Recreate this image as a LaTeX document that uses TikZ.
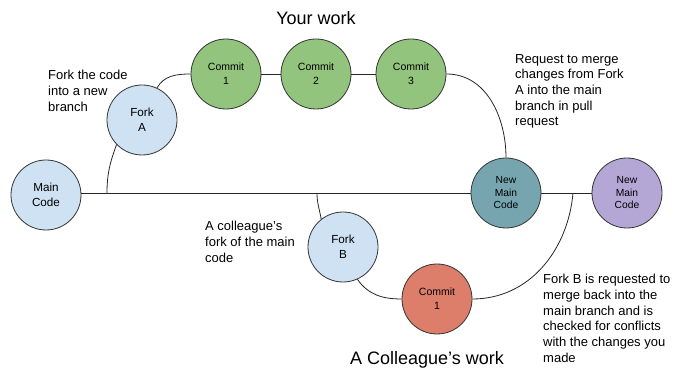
\documentclass[tikz,border=0pt]{standalone}
\usepackage{fontspec}
\setmainfont{Liberation Sans}
\definecolor{forkblue}{HTML}{CFE2F3}
\definecolor{commitgreen}{HTML}{93C47D}
\definecolor{mergeteal}{HTML}{76A5AF}
\definecolor{commitred}{HTML}{DD7E6B}
\definecolor{newpurple}{HTML}{B4A7D6}
\tikzset{
  codenode/.style={circle,draw=black!80,line width=0.8pt,minimum size=70pt,inner sep=0pt,align=center,font=\fontsize{10.5}{14}\selectfont},
  forknode/.style={codenode,fill=forkblue,font=\fontsize{11.7}{15}\selectfont},
  newnode/.style={codenode,font=\fontsize{10.3}{12.5}\selectfont},
  note/.style={anchor=north west,align=left,inner sep=0pt,font=\fontsize{13}{15.7}\selectfont},
  worktitle/.style={anchor=base,inner sep=0pt,font=\fontsize{18}{20}\selectfont},
  branch/.style={line width=0.8pt,black!85}
}
\begin{document}
\begin{tikzpicture}[x=1pt,y=1pt]
\useasboundingbox (0,0) rectangle (675,369);
\node[forknode] (maincode) at (46,174) {Main\\Code};
\node[forknode] (forka) at (142,249) {Fork\\A};
\node[codenode,fill=commitgreen] (commita1) at (226,295) {Commit\\1};
\node[codenode,fill=commitgreen] (commita2) at (316,295) {Commit\\2};
\node[codenode,fill=commitgreen] (commita3) at (411,295) {Commit\\3};
\node[newnode,fill=mergeteal] (newmain) at (506,176) {New\\Main\\Code};
\node[newnode,fill=newpurple] (newmainb) at (627,176) {New\\Main\\Code};
\node[forknode] (forkb) at (343,122) {Fork\\B};
\node[codenode,fill=commitred] (commitb1) at (437,70) {Commit\\1};
\coordinate (forkaroot) at (107,176);
\coordinate (forkbroot) at (317,176);
\coordinate (mergeb) at (573,176);
\draw[branch] (maincode.east |- newmain.west) -- (newmain) -- (newmainb);
\draw[branch] (forkaroot) to[out=90,in=250] (forka.224);
\draw[branch] (forka.65) to[out=60,in=180] (commita1.west);
\draw[branch] (commita1) -- (commita2) -- (commita3);
\draw[branch] (commita3.east) to[out=0,in=90] (newmain.north);
\draw[branch] (forkbroot) to[out=270,in=100] (forkb.128);
\draw[branch] (forkb.294) to[out=-55,in=180] (commitb1.west);
\draw[branch] (commitb1.east) to[out=0,in=265] (mergeb);
\node[worktitle] (yourwork) at (316,344) {Your work};
\node[worktitle] (colleaguework) at (427,4.5) {A Colleague’s work};
\node[note] (forknote) at (48,299) {Fork the code\\into a new\\branch};
\node[note] (requestnote) at (515,315) {Request to merge\\changes from Fork\\A into the main\\branch in pull\\request};
\node[note] (colleaguenote) at (205,148) {A colleague’s\\fork of the main\\code};
\node[note] (mergenote) at (543,95) {Fork B is requested to\\merge back into the\\main branch and is\\checked for conflicts\\with the changes you\\made};
\end{tikzpicture}
\end{document}
